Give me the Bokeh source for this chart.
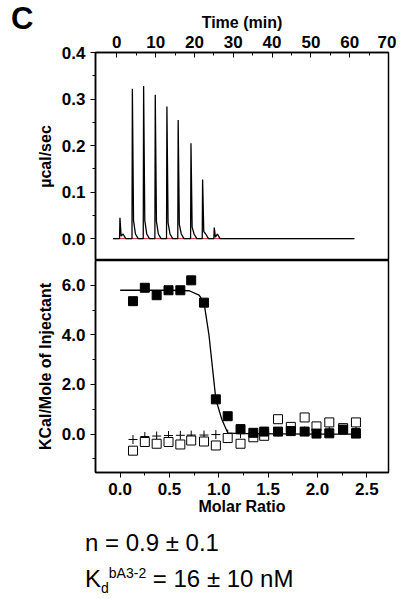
from bokeh.plotting import figure
from bokeh.layouts import column
from bokeh.models import (Range1d, FixedTicker, NumeralTickFormatter, Div)
from bokeh.embed import file_html
from bokeh.resources import INLINE

# injection peaks (time in min, height in ucal/sec)
peak_times = [0.8, 4.0, 6.9, 9.9, 12.9, 15.8, 19.1, 22.1, 25.1]
peak_heights = [0.045, 0.322, 0.328, 0.309, 0.284, 0.255, 0.205, 0.127, 0.024]
trace_start = -1.0
trace_end = 61.2

# integrated heats
molar_ratio = [0.13, 0.25, 0.37, 0.49, 0.61, 0.72, 0.85, 0.97, 1.09, 1.22,
               1.35, 1.46, 1.60, 1.73, 1.87, 1.99, 2.12, 2.26, 2.39]
heat_filled = [5.36, 5.9, 5.6, 5.8, 5.8, 6.2, 5.3, 1.4, 0.72, 0.2,
               0.05, 0.1, 0.1, 0.12, 0.1, 0.02, 0.03, 0.18, 0.02]
heat_open = [-0.67, -0.32, -0.39, -0.32, -0.42, -0.26, -0.30, -0.46, -0.16, -0.39,
             -0.13, -0.07, 0.6, 0.29, 0.67, 0.31, 0.47, 0.24, 0.47]
heat_plus = [-0.22, -0.1, -0.08, -0.06, -0.05, -0.04, -0.04, -0.02, 0.0, 0.02,
             0.03, 0.05, 0.08, 0.1, 0.12, 0.14, 0.18, 0.2, 0.22]
fit_x = [0.0, 0.5, 0.7, 0.8, 0.85, 0.9, 0.97, 1.03, 1.09, 1.2, 1.6, 2.0, 2.4]
fit_y = [5.8, 5.8, 5.78, 5.6, 5.3, 4.0, 1.4, 0.6, 0.05, 0.02, 0.01, 0.0, 0.0]

FONT = "Liberation Sans"


def style(p):
    for ax in p.axis:
        ax.major_label_text_font = FONT
        ax.major_label_text_font_style = "bold"
        ax.major_label_text_font_size = "17px"
        ax.major_label_text_color = "black"
        ax.axis_label_text_font = FONT
        ax.axis_label_text_font_style = "bold"
        ax.axis_label_text_font_size = "16px"
        ax.axis_label_text_color = "black"
        ax.axis_line_width = 1.5
        ax.major_tick_in = 0
        ax.major_tick_out = 5
        ax.minor_tick_in = 0
        ax.minor_tick_out = 3
    p.grid.visible = False
    p.outline_line_color = "black"
    p.outline_line_width = 1.5


# thermogram line built from the read peaks
tx = [trace_start]
ty = [0.0]
for t, h in zip(peak_times, peak_heights):
    tx += [t - 0.1, t, t + 0.3, t + 0.8, t + 1.5]
    ty += [0.0, h, h * 0.12, 0.01, 0.0]
tx.append(trace_end)
ty.append(0.0)

p1 = figure(width=396, height=260, output_backend="svg", toolbar_location=None,
            x_range=Range1d(-5.5, 70), y_range=Range1d(-0.047, 0.4),
            x_axis_location="above", min_border_left=95, min_border_right=8,
            min_border_top=52, min_border_bottom=0)
p1.line([trace_start, trace_end], [0, 0], color="#cc2222", line_width=1)
p1.line(tx, ty, color="black", line_width=1.3)
p1.xaxis.axis_label = "Time (min)"
p1.xaxis.ticker = FixedTicker(ticks=[0, 10, 20, 30, 40, 50, 60, 70],
                              minor_ticks=[5, 15, 25, 35, 45, 55, 65])
p1.yaxis.ticker = FixedTicker(ticks=[0.0, 0.1, 0.2, 0.3, 0.4],
                              minor_ticks=[0.05, 0.15, 0.25, 0.35])
p1.yaxis.formatter = NumeralTickFormatter(format="0.0")
p1.yaxis.axis_label = "µcal/sec"
style(p1)
p1.xaxis.major_tick_in = 5
p1.xaxis.major_tick_out = 0
p1.xaxis.minor_tick_in = 3
p1.xaxis.minor_tick_out = 0
p1.xaxis.axis_label_standoff = 2

p2 = figure(width=396, height=272, output_backend="svg", toolbar_location=None,
            x_range=Range1d(-0.25, 2.72), y_range=Range1d(-1.55, 7.0),
            min_border_left=95, min_border_right=8,
            min_border_top=0, min_border_bottom=60)
p2.line(fit_x, fit_y, color="black", line_width=1.3)
p2.scatter(molar_ratio, heat_plus, marker="cross", size=9, color="black", line_width=1)
p2.scatter(molar_ratio, heat_open, marker="square", size=9, fill_color="white",
           line_color="black", line_width=1)
p2.scatter(molar_ratio, heat_filled, marker="square", size=9, color="black")
p2.xaxis.axis_label = "Molar Ratio"
p2.xaxis.ticker = FixedTicker(ticks=[0.0, 0.5, 1.0, 1.5, 2.0, 2.5],
                              minor_ticks=[0.25, 0.75, 1.25, 1.75, 2.25])
p2.xaxis.formatter = NumeralTickFormatter(format="0.0")
p2.yaxis.ticker = FixedTicker(ticks=[0.0, 2.0, 4.0, 6.0],
                              minor_ticks=[-1.0, 1.0, 3.0, 5.0])
p2.yaxis.formatter = NumeralTickFormatter(format="0.0")
p2.yaxis.axis_label = "KCal/Mole of Injectant"
style(p2)
p2.xaxis.axis_label_standoff = 0

txt = Div(text="<div style='position:absolute;left:6px;top:-534px;font-family:Liberation Sans;"
               "font-size:31px;font-weight:bold;line-height:31px'>C</div>"
               "<div style='font-family:Liberation Sans;font-size:24px;line-height:31px;"
               "margin-left:80px;margin-top:-10px'>n = 0.9 &plusmn; 0.1<br>"
               "K<sub style='font-size:14px'>d</sub><sup style='font-size:14px'>bA3-2</sup>"
               " = 16 &plusmn; 10 nM</div>", width=396, height=60,
          styles={"overflow": "visible"})

layout = column(p1, p2, txt, spacing=0)
open("out.html", "w").write(file_html(layout, INLINE))
